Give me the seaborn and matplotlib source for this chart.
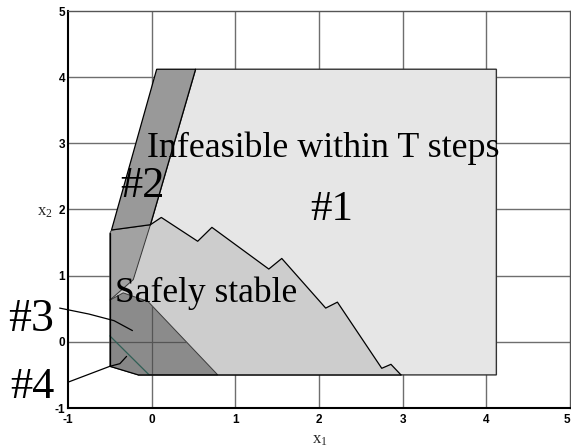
import numpy as np
import pandas as pd
import matplotlib
matplotlib.use("Agg")
import matplotlib.pyplot as plt
from matplotlib.patches import Polygon
import seaborn as sns

# ---- region vertices (state space x1, x2) ----
infeasible_x1 = [0.525, 4.12, 4.12, -0.16, -0.015]
infeasible_x2 = [4.12, 4.12, -0.50, -0.50, 1.77]

band_x1 = [0.06, 0.525, -0.015, -0.48]
band_x2 = [4.12, 4.12, 1.77, 1.69]

mid_x1 = [-0.50, -0.48, -0.015, -0.22, -0.50]
mid_x2 = [1.64, 1.69, 1.77, 0.94, 0.63]

# jagged upper boundary of the safely stable set
safe_top_x1 = [-0.015, 0.115, 0.55, 0.72, 1.40, 1.555, 2.08, 2.22, 2.75, 2.86, 2.98]
safe_top_x2 = [1.77, 1.88, 1.52, 1.73, 1.10, 1.26, 0.51, 0.60, -0.40, -0.34, -0.50]
safe_rest_x1 = [-0.16, -0.50, -0.50, -0.22]
safe_rest_x2 = [-0.50, -0.37, 0.63, 0.94]

set3_x1 = [-0.50, -0.34, -0.044, 0.79, -0.16, -0.50]
set3_x2 = [0.63, 0.74, 0.61, -0.50, -0.50, -0.37]

set4_x1 = [-0.50, -0.03, -0.16, -0.50]
set4_x2 = [0.09, -0.50, -0.50, -0.37]

ticks = [-1, 0, 1, 2, 3, 4, 5]

sns.set_theme(style="white")
plt.rcParams["font.family"] = ["Liberation Serif", "DejaVu Serif"]

fig = plt.figure(figsize=(5.71, 4.48), dpi=100)
ax = fig.add_axes([68 / 571, 40 / 448, 502 / 571, 397 / 448])
ax.set_xlim(-1, 5)
ax.set_ylim(-1, 5)

grid_kw = dict(color="#6e6e6e", lw=1.0, zorder=0.5)
for t in ticks[1:-1]:
    ax.axvline(t, **grid_kw)
    ax.axhline(t, **grid_kw)


def poly(xs, ys, fc, ec="black", lw=0.8, z=1):
    p = Polygon(np.column_stack([xs, ys]), closed=True, facecolor=fc,
                edgecolor=ec, linewidth=lw, zorder=z)
    ax.add_patch(p)
    return p


poly(infeasible_x1, infeasible_x2, "#e6e6e6", ec="#333333", lw=1.0, z=1)
poly(safe_top_x1 + safe_rest_x1, safe_top_x2 + safe_rest_x2, "#cdcdcd", ec="none", z=2)
poly(mid_x1, mid_x2, "#a2a2a2", ec="#333333", lw=0.7, z=2.5)
poly(band_x1, band_x2, "#999999", ec="black", lw=0.9, z=3)
p3 = poly(set3_x1, set3_x2, "#8b8b8b", ec="#3a3a3a", lw=0.7, z=3)
p4 = poly(set4_x1, set4_x2, "#878787", ec="none", z=3.2)

# jagged boundary drawn through seaborn
boundary = pd.DataFrame({"x1": safe_top_x1, "x2": safe_top_x2})
sns.lineplot(data=boundary, x="x1", y="x2", sort=False, color="black",
             lw=0.9, ax=ax, zorder=4, estimator=None)

# edge of set #4
ax.plot(set4_x1[:2], set4_x2[:2], color="#2f5f55", lw=0.9, zorder=4)
# left and lower outline of the sets
ax.plot([-0.5, -0.5], [1.64, -0.37], color="black", lw=0.9, zorder=4)
ax.plot([-0.5, -0.16, 2.98], [-0.37, -0.5, -0.5], color="black", lw=0.9, zorder=4)

# grid visible through the darkest set
for ln in (ax.axvline(0, color="#555555", lw=0.9, zorder=3.5),
           ax.axhline(0, color="#555555", lw=0.9, zorder=3.5)):
    ln.set_clip_path(p3)

# leader lines for the small sets
ax.plot([-1.10, -0.75, -0.45, -0.23], [0.51, 0.42, 0.32, 0.17],
        color="black", lw=0.9, zorder=5, clip_on=False)
ax.plot([-1.00, -0.50, -0.38, -0.30], [-0.61, -0.37, -0.33, -0.22],
        color="black", lw=0.9, zorder=5, clip_on=False)

txt = dict(color="black", ha="left", va="baseline", zorder=6, clip_on=False)
ax.text(-0.05, 2.79, "Infeasible within T steps", fontsize=25.8, **txt)
ax.text(1.90, 1.84, "#1", fontsize=31, **txt)
ax.text(-0.375, 2.19, "#2", fontsize=32, **txt)
ax.text(-0.44, 0.60, "Safely stable", fontsize=25.5, **txt)
ax.text(-1.72, 0.17, "#3", fontsize=33, **txt)
ax.text(-1.69, -0.85, "#4", fontsize=32, **txt)

fig.text(320 / 571, 1 - 440 / 448, r"$\mathregular{x_1}$", fontsize=12,
         ha="center", va="center")
fig.text(45 / 571, 1 - 212 / 448, r"$\mathregular{x_2}$", fontsize=12,
         ha="center", va="center")

ax.set_xticks(ticks)
ax.set_yticks(ticks)
ax.set_xticklabels([str(t) for t in ticks], family="Liberation Sans",
                   fontweight="bold", fontsize=8.5)
ax.set_yticklabels([str(t) for t in ticks], family="Liberation Sans",
                   fontweight="bold", fontsize=8.5)
# keep the last x tick label inside the figure edge
ax.get_xticklabels()[-1].set_horizontalalignment("right")
ax.tick_params(axis="both", direction="in", length=3, width=1, colors="black",
               pad=4)
ax.tick_params(axis="y", pad=2)
for side in ("left", "bottom"):
    ax.spines[side].set_color("black")
    ax.spines[side].set_linewidth(1.5)
for side in ("top", "right"):
    ax.spines[side].set_color("#555555")
    ax.spines[side].set_linewidth(1.0)
ax.set_xlabel("")
ax.set_ylabel("")

fig.savefig("out.png", dpi=100)
